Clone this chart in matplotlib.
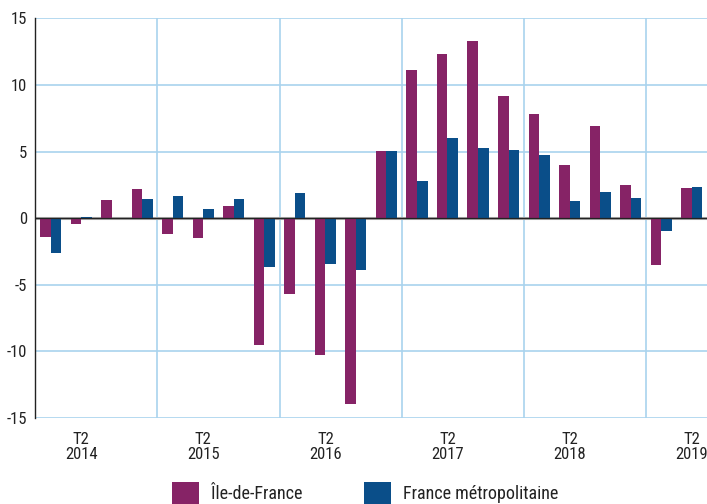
import matplotlib
matplotlib.use("Agg")
import matplotlib.pyplot as plt
import numpy as np
from matplotlib.patches import Patch

quarters = ["T1 2014", "T2 2014", "T3 2014", "T4 2014",
            "T1 2015", "T2 2015", "T3 2015", "T4 2015",
            "T1 2016", "T2 2016", "T3 2016", "T4 2016",
            "T1 2017", "T2 2017", "T3 2017", "T4 2017",
            "T1 2018", "T2 2018", "T3 2018", "T4 2018",
            "T1 2019", "T2 2019"]
idf = [-1.4, -0.43, 1.38, 2.2,
       -1.18, -1.48, 0.93, -9.55,
       -5.68, -10.25, -13.93, 5.05,
       11.13, 12.33, 13.3, 9.18,
       7.83, 4.0, 6.93, 2.5,
       -3.5, 2.28]
france = [-2.65, 0.1, 0.04, 1.45,
          1.68, 0.7, 1.45, -3.65,
          1.9, -3.43, -3.88, 5.05,
          2.8, 6.03, 5.28, 5.13,
          4.75, 1.3, 1.98, 1.53,
          -0.95, 2.35]
series_names = ["Île-de-France", "France métropolitaine"]
tick_idx = [1, 5, 9, 13, 17, 21]
tick_labels = ["T2\n2014", "T2\n2015", "T2\n2016", "T2\n2017", "T2\n2018", "T2\n2019"]
year_bounds = [3.5, 7.5, 11.5, 15.5, 19.5]
yticks = [-15, -10, -5, 0, 5, 10, 15]

PURPLE = "#862366"
BLUE = "#0a4e89"
GRID = "#a9d3ee"

plt.rcParams['font.family'] = ['Roboto Condensed', 'Archivo Narrow', 'Liberation Sans', 'DejaVu Sans']

fig = plt.figure(figsize=(7.07, 5.04), dpi=100)
ax = fig.add_axes([0.05, 0.1706, 0.95, 0.7931])

x = np.arange(len(quarters))
w = 0.345
ax.bar(x - w / 2, idf, width=w, color=PURPLE, zorder=3)
ax.bar(x + w / 2, france, width=w, color=BLUE, zorder=3)

ax.set_xlim(-0.5, len(quarters) - 0.5)
ax.set_ylim(-15, 15)
ax.set_yticks(yticks)
ax.set_yticklabels([str(v) for v in yticks], fontsize=12, color="#222222")
ax.set_xticks(tick_idx)
ax.set_xticklabels(tick_labels, fontsize=12, color="#222222", linespacing=1.0)
ax.tick_params(axis='both', length=0)
ax.tick_params(axis='y', pad=6)
ax.tick_params(axis='x', pad=10)

for yv in yticks:
    if yv != 0:
        ax.axhline(yv, color=GRID, lw=1.2, zorder=1)
for xb in year_bounds:
    ax.axvline(xb, color=GRID, lw=1.2, zorder=1)
ax.axhline(0, color="#aaaaaa", lw=2.2, zorder=2)
ax.axhline(0, color="#222222", lw=0.9, zorder=4)

for s in ["top", "right", "bottom"]:
    ax.spines[s].set_visible(False)
ax.spines["left"].set_color("#222222")
ax.spines["left"].set_linewidth(1.0)

handles = [Patch(facecolor=PURPLE), Patch(facecolor=BLUE)]
fig.legend(handles, series_names, loc="upper left", bbox_to_anchor=(0.2433, 0.044),
           ncol=2, frameon=False, fontsize=13, handlelength=1.5, handleheight=1.5,
           handletextpad=0.65, columnspacing=3.4, borderpad=0, borderaxespad=0,
           labelcolor="#222222")

fig.savefig("out.png", dpi=100)
